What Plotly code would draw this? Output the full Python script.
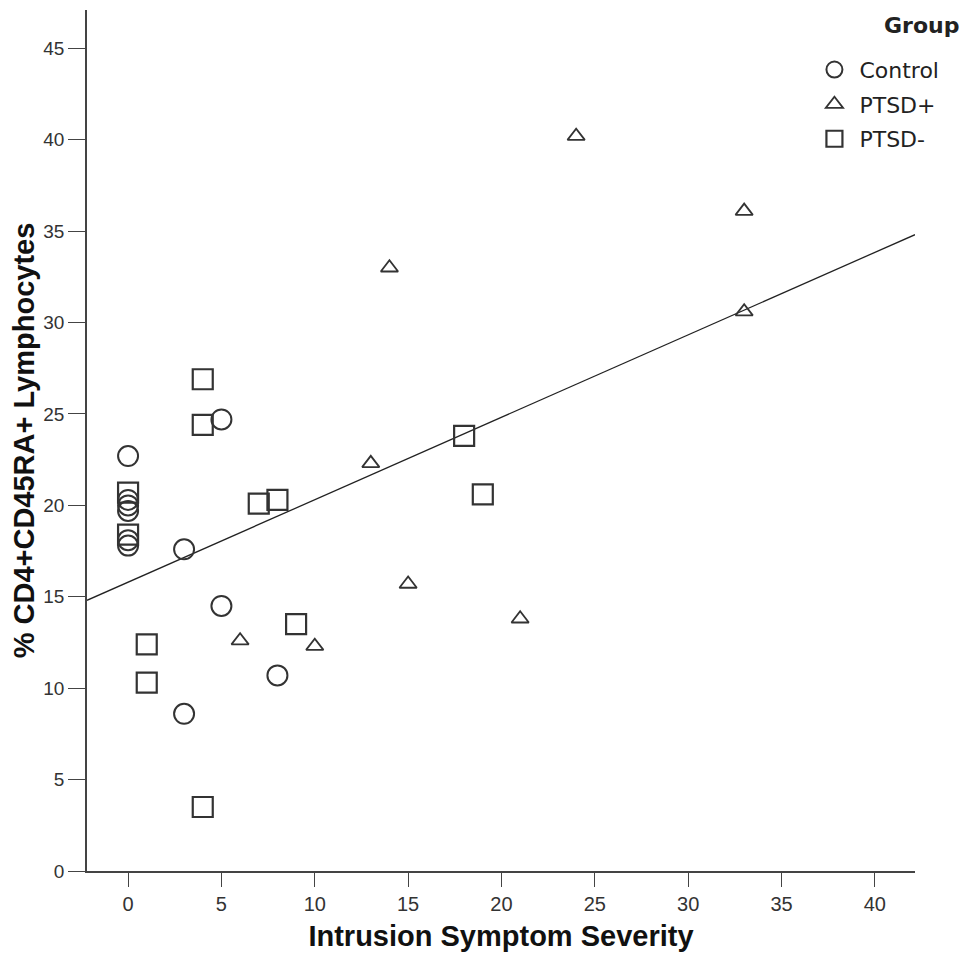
import plotly.graph_objects as go

# Data
control_x = [0, 0, 0, 0, 0, 0, 3, 5, 5, 3, 8]
control_y = [22.7, 20.3, 20.0, 19.7, 18.1, 17.8, 17.6, 24.7, 14.5, 8.6, 10.7]

ptsd_pos_x = [24, 33, 14, 33, 13, 15, 21, 6, 10]
ptsd_pos_y = [40.2, 36.1, 33.0, 30.6, 22.3, 15.7, 13.8, 12.6, 12.3]

ptsd_neg_x = [0, 0, 4, 4, 7, 8, 18, 19, 9, 1, 1, 4]
ptsd_neg_y = [20.7, 18.4, 26.9, 24.4, 20.1, 20.3, 23.8, 20.6, 13.5, 12.4, 10.3, 3.5]

fit_intercept = 15.8
fit_slope = 0.451

x_range = [-2.2, 42.15]
y_range = [0, 47.1]
x_ticks = [0, 5, 10, 15, 20, 25, 30, 35, 40]
y_ticks = [0, 5, 10, 15, 20, 25, 30, 35, 40, 45]

FONT = "Liberation Sans, Arial, sans-serif"
LEG_FONT = "DejaVu Sans, Liberation Sans, sans-serif"
LINE = "#333333"

fig = go.Figure()

fit_x = [x_range[0], x_range[1]]
fit_y = [fit_intercept + fit_slope * v for v in fit_x]
fig.add_trace(go.Scatter(x=fit_x, y=fit_y, mode="lines",
                         line=dict(color="#222222", width=1.3),
                         showlegend=False, hoverinfo="skip"))

fig.add_trace(go.Scatter(x=control_x, y=control_y, mode="markers", name="Control",
                         legendgroup="a",
                         marker=dict(symbol="circle-open", size=20,
                                     line=dict(color=LINE, width=2), color=LINE)))
fig.add_trace(go.Scatter(x=ptsd_pos_x, y=ptsd_pos_y, mode="markers", name="PTSD+",
                         legendgroup="b",
                         marker=dict(symbol="triangle-up-open", size=15,
                                     line=dict(color=LINE, width=1.8), color=LINE)))
fig.add_trace(go.Scatter(x=ptsd_neg_x, y=ptsd_neg_y, mode="markers", name="PTSD-",
                         legendgroup="c",
                         marker=dict(symbol="square-open", size=20,
                                     line=dict(color=LINE, width=2.2), color=LINE)))

fig.update_layout(
    width=965, height=954,
    margin=dict(l=87, r=50, t=10, b=83, autoexpand=False),
    plot_bgcolor="white", paper_bgcolor="white",
    font=dict(family=FONT, color="#222222"),
    legend=dict(x=0.8725, y=0.955, xanchor="left", yanchor="top",
                font=dict(family=LEG_FONT, size=22, color="#222222"),
                bgcolor="rgba(0,0,0,0)", itemsizing="trace",
                itemwidth=40, tracegroupgap=3),
    annotations=[dict(text="<b>Group</b>", xref="paper", yref="paper",
                      x=1.056, y=0.999, xanchor="right", yanchor="top",
                      showarrow=False,
                      font=dict(family=LEG_FONT, size=22, color="#222222"))],
)

fig.update_xaxes(range=x_range, tickvals=x_ticks, ticks="outside", ticklen=14,
                 tickcolor="#444444", showline=True, linecolor="#444444", linewidth=1.5,
                 showgrid=False, zeroline=False, automargin=False,
                 tickfont=dict(family=FONT, size=20, color="#333333"),
                 title=dict(text="<b>Intrusion Symptom Severity</b>",
                            font=dict(family=FONT, size=29, color="#111111"),
                            standoff=12))
fig.update_yaxes(range=y_range, tickvals=y_ticks, ticks="outside", ticklen=17,
                 tickcolor="#444444", showline=True, linecolor="#444444", linewidth=1.5,
                 showgrid=False, zeroline=False, automargin=False,
                 tickfont=dict(family=FONT, size=19, color="#333333"),
                 title=dict(text="<b>% CD4+CD45RA+ Lymphocytes</b>",
                            font=dict(family=FONT, size=29, color="#111111"),
                            standoff=0))

fig.write_html("out.html", config={"displayModeBar": False},
               post_script="document.body.style.margin='0';document.documentElement.style.overflow='hidden';")
